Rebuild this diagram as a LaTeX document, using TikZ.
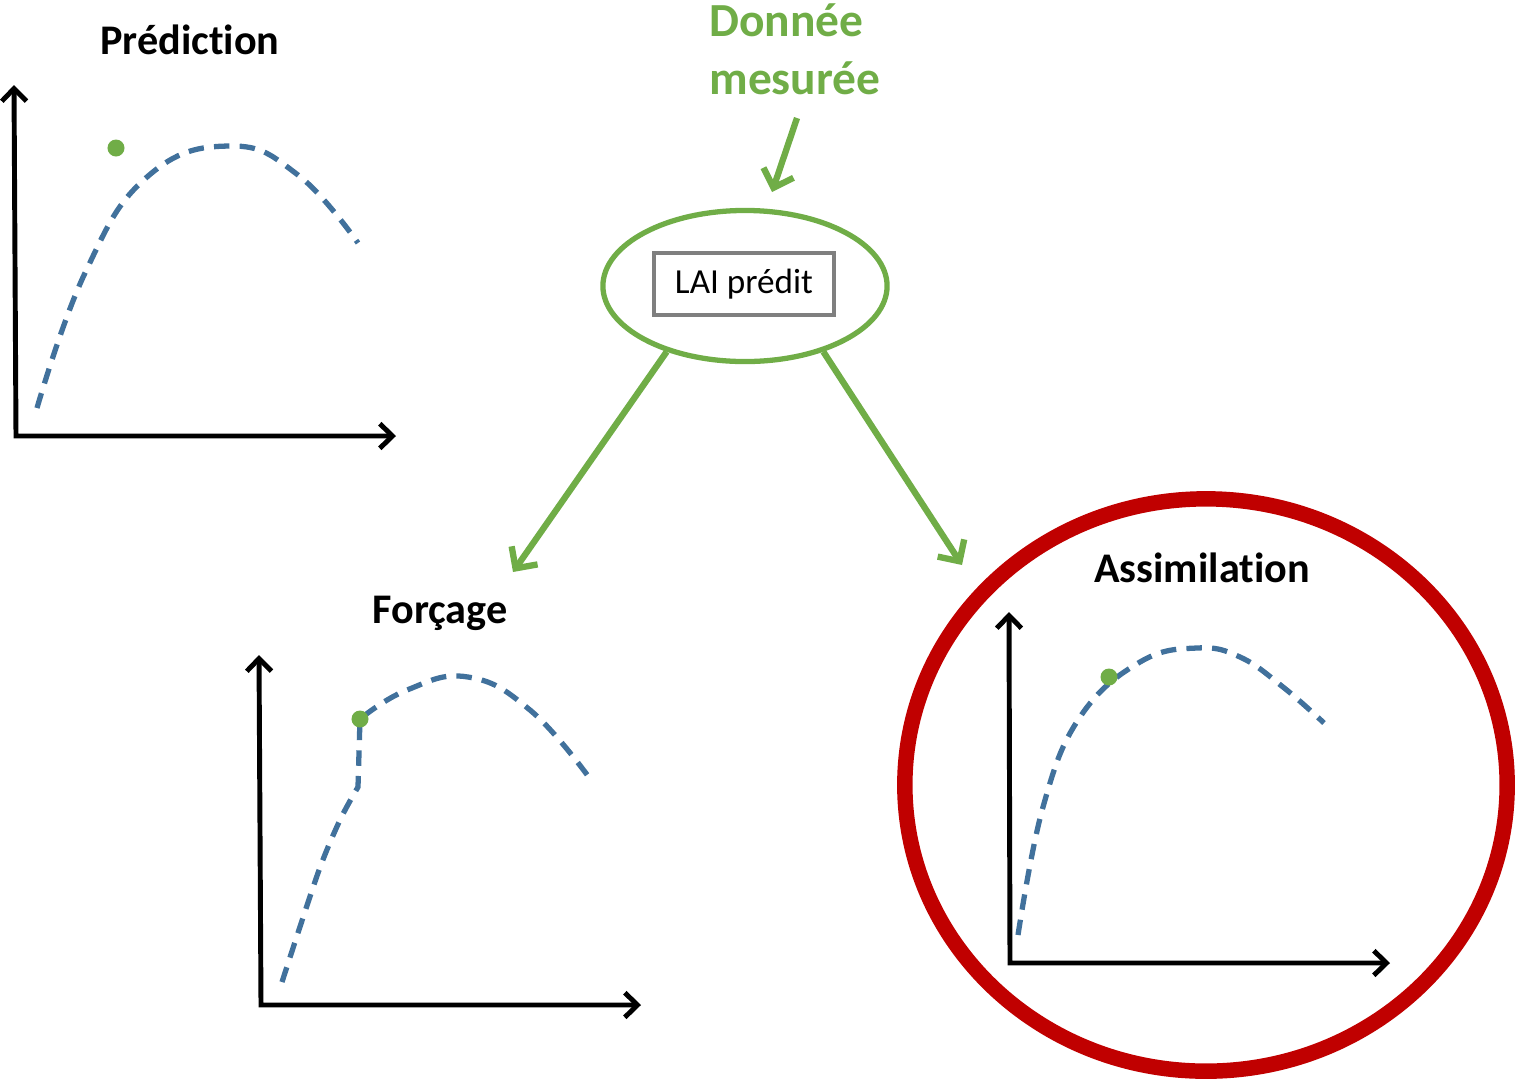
\documentclass[tikz,border=0pt]{standalone}
\usepackage{fontspec}
\setmainfont{Carlito}[Ligatures=NoCommon]
\usetikzlibrary{arrows.meta,shapes.geometric}
\definecolor{vert}{HTML}{70AD47}
\definecolor{bleu}{HTML}{41719C}
\definecolor{rouge}{HTML}{C00000}
\definecolor{gris}{HTML}{7F7F7F}
\tikzset{
	axe/.style={line width=1.4pt, {Straight Barb[length=3.6pt,width=7pt]}-{Straight Barb[length=3.6pt,width=7pt]}},
	courbe/.style={bleu, line width=1.5pt, dash pattern=on 4.4pt off 2.9pt},
	fleche/.style={vert, line width=1.8pt, -{Straight Barb[length=4.5pt,width=9pt]}},
	point/.style={circle, fill=vert, inner sep=0pt, minimum size=0.17cm},
	titre/.style={font=\fontsize{12}{14}\selectfont\bfseries, anchor=base}
}
\begin{document}
\begin{tikzpicture}[x=0.01cm, y=-0.01cm]
		\useasboundingbox (0,0) rectangle (1518,1081);
		% Axes
		\foreach \ox/\oy/\hx/\vx/\vy in {16/436/396/14/85, 261/1005/641/259/655, 1010/963/1390/1009/612}
		\draw[axe] (\vx,\vy) -- (\ox,\oy) -- (\hx,\oy);
		
		% Titles
		\node[titre] (pred) at (190,54) {Prédiction};
		\node[titre] (forc) at (440,623) {Forçage};
		\node[titre] (assi) at (1202,582) {Assimilation};
		\node[vert, align=left, font=\fontsize{13.5}{16.5}\selectfont\bfseries] (donnee) at (795,49) {Donnée\\mesurée};
		
		% Curves
		\draw[courbe] plot[smooth, tension=0.75] coordinates {(37,408) (85,273) (147,177) (230,146) (298,175) (358,243)};
		\draw[courbe] plot[smooth] coordinates {(282,982) (318,873) (340,820) (358,787)} -- plot[smooth, tension=0.75] coordinates {(360,719) (407,690) (468,677) (530,710) (588,776)};
		\draw[courbe] plot[smooth, tension=0.7] coordinates {(1018,935) (1043,807) (1080,717) (1140,662) (1197,648) (1240,657) (1283,687) (1324,723)};
		
		% Measured points
		\node[point] (p1) at (116,148) {};
		\node[point] (p2) at (360,719) {};
		\node[point] (p3) at (1109,677) {};
		
		% Ellipse and box
		\node[ellipse, draw=vert, line width=1.5pt, minimum width=2.84cm, minimum height=1.51cm] (ell) at (745,286) {};
		\node[draw=gris, line width=1pt, minimum width=1.80cm, minimum height=0.62cm, font=\fontsize{10}{12}\selectfont] (lai) at (744,284) {LAI prédit};
		\node[ellipse, draw=rouge, line width=4.4pt, minimum width=6.02cm, minimum height=5.72cm] (cercle) at (1206,785) {};
		
		% Arrows
		\coordinate (d1) at (797,118);
		\coordinate (d2) at (772,192);
		\coordinate (f1) at (513,572);
		\coordinate (f2) at (962,565);
		\draw[fleche] (d1) -- (d2);
		\draw[fleche] (ell.220) -- (f1);
		\draw[fleche] (ell.-40) -- (f2);
\end{tikzpicture}
\end{document}
